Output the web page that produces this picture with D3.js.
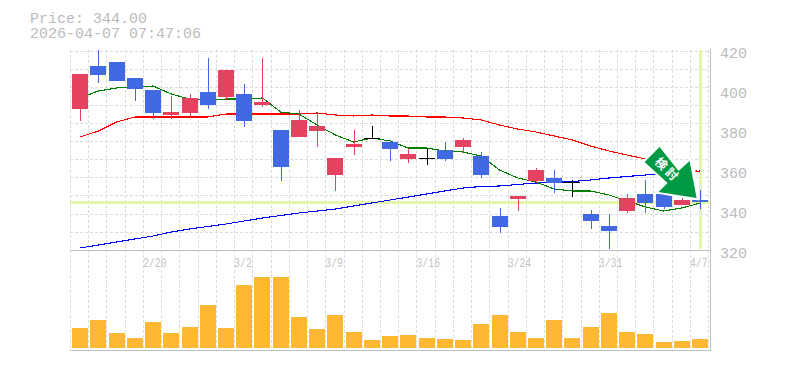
<!DOCTYPE html>
<html>
<head>
<meta charset="utf-8">
<script src="https://cdn.jsdelivr.net/npm/d3@7/dist/d3.min.js"></script>
<style>
  html, body { margin: 0; padding: 0; background: #fff; }
  svg { display: block; }
  text { font-family: "Liberation Mono", "DejaVu Sans Mono", monospace; fill: #bbb; }
</style>
</head>
<body>
<div id="app"></div>
<script>
const dates = ['2/16','2/17','2/18','2/19','2/20','2/24','2/25','2/26','2/27','3/2','3/3','3/4','3/5','3/6','3/9','3/10','3/11','3/12','3/13','3/16','3/17','3/18','3/19','3/23','3/24','3/25','3/26','3/27','3/30','3/31','4/1','4/2','4/3','4/6','4/7'];
const dateTicks = ['2/20','3/2','3/9','3/16','3/24','3/31','4/7'];
const priceTicks = [320, 340, 360, 380, 400, 420];

const open = [390.5,412,414,406,400,387.5,388.5,399,396.5,398,392.5,380,376.5,379.5,357.5,371.5,376,374,365.5,366,370,371.5,367,337,345.5,354.5,356,354,338,332,339.5,348,348,342.5,345];
const high = [408,420,414,406,400,397,398,416,410,403,416,380,390,388.5,366,380,382,375,371,371,374,376,369,341,347,361,360,355,340,338,348,355,348,346,350];
const low = [384.5,403.5,404.5,394.5,385.5,385.5,386.5,390.5,395,381.5,391.5,354.5,376.5,371.5,349.5,367.5,375.5,364.5,363.5,362.5,364.5,368.5,356,328.5,339.5,353.5,348.5,346.5,330.5,320.5,338.5,338.5,340.5,342.5,340.5];
const close = [408,407.5,404.5,400.5,388.5,389,396,392.5,410,384.5,394,361.5,385,382,366,373,376,370.5,368,366,365.5,375,357.5,331.5,347,360,353.5,354,334.5,329.5,346,343.5,341.5,345,344];

const maShort = [396,399.5,401,401.5,402,398,395.5,395,395.5,395.5,396,389,388,382.5,377.5,374,376,374.5,371,371,369.5,369,367,360,356,354,350.5,349.5,349.5,347.5,344.5,341.5,339.5,341,343.5];
const maMid = [376.5,379.5,384,386.5,386.5,386.5,386.5,386.5,388,388,388,388,388,388.5,387.5,387,387.5,387,387,386.5,386.5,386,385,382.5,380.5,379,377,375,372,369.5,367.5,365.5,363.5,361.5,359];
const maLong = [321,322.5,324,325.5,327,329,330.5,331.75,333,334.5,336,337.25,338.5,339.5,340.5,342,343.5,345,346.5,348,349.5,351,351.75,352,352.75,353.5,353.75,354.25,355,356,356.75,357.5,358.25,358.75,359.5];

const volume = [20,28,15,10,26,15,21,43,20,63,71,71,31,19,33,16,8,12,13,10,9,8,24,33,16,10,28,10,21,35,16,14,6,7,9];

const lastPrice = 344.00;
const stamp = '2026-04-07 07:47:06';
const signal = '検討';

const width = 785;
const height = 370;
const plot = {left: 71, right: 709.2, top: 50, mid: 250, bottom: 350};
const bodyWidth = 16;
const gridColor = '#dcdcdc';
const axisColor = '#c0c0c0';
const upColor = '#e34260';
const downColor = '#4169e1';
const markerColor = '#e4f6a8';

const x = d3.scaleBand().domain(dates).range([plot.left, plot.right]);
const y = d3.scaleLinear().domain([320, 420]).range([plot.mid, plot.top]);
const yVol = d3.scaleLinear().domain([0, 100]).range([348, 248]);

const svg = d3.select('#app')
    .append('svg')
        .attr('width', width)
        .attr('height', height);

svg.append('text').attr('x', 30).attr('y', 23).style('font-size', '15px')
    .text('Price: ' + lastPrice.toFixed(2));
svg.append('text').attr('x', 30).attr('y', 38).style('font-size', '15px')
    .text(stamp);

// grid, vertical lines sit one pixel left of each slot
const grid = svg.append('g')
    .attr('stroke', gridColor)
    .attr('stroke-dasharray', '3 2')
    .attr('shape-rendering', 'crispEdges');
const slotEdge = d => Math.round(x(d) - 1) + 0.5;
grid.selectAll('.v').data(dates).join('line')
    .attr('x1', slotEdge).attr('x2', slotEdge)
    .attr('y1', plot.top).attr('y2', plot.bottom);
grid.append('line')
    .attr('x1', plot.right - 1.2).attr('x2', plot.right - 1.2)
    .attr('y1', plot.top).attr('y2', plot.bottom);
const gridY = i => Math.round(plot.top + 0.5 + i * 18.12) + 0.5;
grid.selectAll('.h').data(d3.range(0, 11)).join('line')
    .attr('x1', 70).attr('x2', 710)
    .attr('y1', gridY)
    .attr('y2', gridY);

// last price / last date markers
svg.append('rect')
    .attr('x', 70).attr('width', 640)
    .attr('y', y(lastPrice) - 1).attr('height', 3)
    .attr('fill', markerColor);
svg.append('rect')
    .attr('x', Math.round(x(dates[34]) + x.bandwidth() / 2) - 1).attr('width', 3)
    .attr('y', plot.top).attr('height', 199)
    .attr('fill', markerColor);

// frame
const frame = svg.append('g')
    .attr('stroke', axisColor)
    .attr('shape-rendering', 'crispEdges');
frame.append('line').attr('x1', 70).attr('x2', 711).attr('y1', 250.5).attr('y2', 250.5);
frame.append('line').attr('x1', 70).attr('x2', 711).attr('y1', 350.5).attr('y2', 350.5);
frame.append('line').attr('x1', 710.5).attr('x2', 710.5).attr('y1', 49).attr('y2', 351);

// moving averages
const maLine = d3.line()
    .x((d, i) => x(dates[i]) + x.bandwidth() / 2)
    .y(d => y(d));
[[maLong, '#0000ff'], [maMid, '#ff0000'], [maShort, '#008000']].forEach(([values, color]) => {
    svg.append('path')
        .datum(values)
        .attr('fill', 'none')
        .attr('stroke', color)
        .attr('stroke-width', 1.1)
        .attr('shape-rendering', 'crispEdges')
        .attr('d', maLine);
});

// candles
const candleColor = i => open[i] === close[i] ? '#000' : (close[i] > open[i] ? upColor : downColor);
const left = d => Math.round(x(d) + (x.bandwidth() - bodyWidth) / 2);
const candles = svg.append('g').attr('shape-rendering', 'crispEdges');
candles.selectAll('line').data(dates).join('line')
    .attr('x1', d => left(d) + bodyWidth / 2 + 0.5)
    .attr('x2', d => left(d) + bodyWidth / 2 + 0.5)
    .attr('y1', (d, i) => y(high[i]))
    .attr('y2', (d, i) => y(low[i]))
    .attr('stroke', (d, i) => candleColor(i));
candles.selectAll('rect').data(dates).join('rect')
    .attr('x', left)
    .attr('width', bodyWidth)
    .attr('y', (d, i) => y(Math.max(open[i], close[i])))
    .attr('height', (d, i) => Math.max(1, Math.abs(y(open[i]) - y(close[i]))))
    .attr('fill', (d, i) => candleColor(i));

// volume
svg.append('g').attr('shape-rendering', 'crispEdges')
    .selectAll('rect').data(dates).join('rect')
    .attr('x', left)
    .attr('width', bodyWidth)
    .attr('y', (d, i) => yVol(volume[i]))
    .attr('height', (d, i) => yVol(0) - yVol(volume[i]))
    .attr('fill', '#ffb833');

// axes
const yAxis = svg.append('g')
    .attr('transform', 'translate(710,0)')
    .call(d3.axisRight(y).tickValues(priceTicks).tickSize(0).tickPadding(10));
yAxis.select('.domain').remove();
yAxis.selectAll('text')
    .attr('dy', '0.66em')
    .attr('y', -2.5)
    .style('font-family', '"Liberation Mono", monospace')
    .style('font-size', '15px')
    .style('fill', '#bbb');

const xAxis = svg.append('g')
    .attr('transform', 'translate(0,250)')
    .call(d3.axisBottom(x).tickValues(dateTicks).tickSize(0));
xAxis.select('.domain').remove();
xAxis.selectAll('text')
    .attr('text-anchor', 'start')
    .attr('x', -x.bandwidth() / 2 - 1)
    .attr('y', 17)
    .attr('dy', 0)
    .attr('textLength', d => d.length * 5.9)
    .attr('lengthAdjust', 'spacingAndGlyphs')
    .style('font-family', '"Liberation Mono", monospace')
    .style('font-size', '13px')
    .style('fill', '#c4c4c4');

// signal arrow, outline is relative to the last candle
const tipX = x(dates[34]) + x.bandwidth() / 2 - 3.5;
const tipY = y(lastPrice) - 4;
const arrow = svg.append('g').attr('transform', 'translate(' + tipX + ',' + tipY + ')');
// the arrow's white backing also hides the averages behind its notch
arrow.append('rect')
    .attr('x', -24).attr('y', -33)
    .attr('width', 23).attr('height', 9)
    .attr('fill', '#fff');
arrow.append('path')
    .attr('d', 'M-37,-51 L-52,-36 L-29,-15 L-38,-6 L0,0 L-7,-37 L-18,-27 Z')
    .attr('fill', '#009944')
    .attr('stroke', '#fff')
    .attr('stroke-width', 4)
    .attr('paint-order', 'stroke');
arrow.append('text')
    .attr('transform', 'translate(-29,-28) rotate(45)')
    .attr('text-anchor', 'middle')
    .attr('dy', '0.36em')
    .style('font-family', '"Noto Sans CJK JP", sans-serif')
    .style('font-size', '12px')
    .style('font-weight', '700')
    .style('letter-spacing', '3px')
    .style('fill', '#fff')
    .text(signal);
</script>
</body>
</html>
